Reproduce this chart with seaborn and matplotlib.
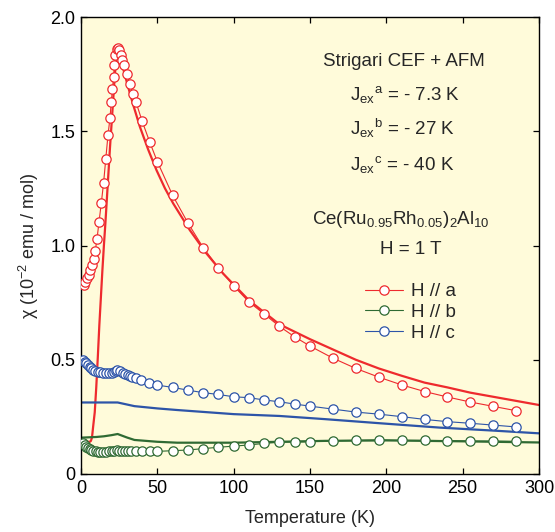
import numpy as np
import pandas as pd
import matplotlib
matplotlib.use("Agg")
import matplotlib.pyplot as plt
import seaborn as sns

# ---------------- data ----------------
# measured data, H // a
Ta = [1.7, 2.8, 3.9, 5.0, 6.1, 7.2, 8.3, 9.3, 10.5, 11.8, 13.3, 14.8, 16.2, 17.7,
      19.0, 19.8, 20.6, 21.3, 21.9, 22.5, 23.4, 24.2, 25.1, 26.0, 27.0, 28.1, 29.9,
      32.1, 33.8, 36.0, 40, 45, 50, 60, 70, 80, 90, 100, 110, 120, 130, 140, 150,
      165, 180, 195, 210, 225, 240, 255, 270, 285]
chi_a = [0.826, 0.841, 0.856, 0.870, 0.892, 0.914, 0.943, 0.975, 1.03, 1.103, 1.186,
         1.274, 1.377, 1.485, 1.558, 1.628, 1.683, 1.738, 1.792, 1.835, 1.862, 1.866,
         1.854, 1.832, 1.81, 1.791, 1.752, 1.708, 1.665, 1.628, 1.545, 1.453, 1.367,
         1.22, 1.099, 0.991, 0.903, 0.823, 0.753, 0.70, 0.646, 0.600, 0.56, 0.507,
         0.462, 0.424, 0.39, 0.361, 0.337, 0.315, 0.296, 0.277]

# measured data, H // b
Tb = [1.3, 2.3, 3.4, 4.5, 5.6, 6.7, 8.0, 9.5, 10.9, 12.5, 14.2, 16.4, 18.5, 20.2,
      21.8, 23.5, 25.0, 27.0, 29.0, 31.0, 33.0, 36.0, 40, 45, 50, 60, 70, 80, 90,
      100, 110, 120, 130, 140, 150, 165, 180, 195, 210, 225, 240, 255, 270, 285]
chi_b = [0.137, 0.128, 0.120, 0.114, 0.109, 0.105, 0.102, 0.100, 0.098, 0.097, 0.097,
         0.098, 0.099, 0.100, 0.102, 0.103, 0.102, 0.101, 0.100, 0.100, 0.100, 0.100,
         0.100, 0.100, 0.099, 0.102, 0.105, 0.111, 0.117, 0.122, 0.127, 0.134, 0.139,
         0.140, 0.141, 0.146, 0.147, 0.149, 0.147, 0.147, 0.146, 0.144, 0.144, 0.143]

# measured data, H // c
Tc = [1.3, 2.3, 3.4, 4.5, 5.6, 6.7, 7.8, 9.3, 10.9, 12.5, 14.2, 16.3, 18.5, 20.2,
      21.8, 23.0, 23.9, 25.5, 27.2, 28.8, 30.5, 32.0, 33.7, 36.0, 39.2, 44.6, 50,
      60, 70, 80, 90, 100, 110, 120, 130, 140, 150, 165, 180, 195, 210, 225, 240,
      255, 270, 285]
chi_c = [0.498, 0.491, 0.484, 0.476, 0.469, 0.462, 0.455, 0.450, 0.447, 0.445, 0.443,
         0.441, 0.440, 0.443, 0.447, 0.452, 0.455, 0.450, 0.443, 0.438, 0.433, 0.428,
         0.423, 0.418, 0.411, 0.400, 0.389, 0.379, 0.367, 0.356, 0.348, 0.338, 0.334,
         0.324, 0.316, 0.306, 0.297, 0.284, 0.271, 0.262, 0.251, 0.239, 0.229, 0.222,
         0.214, 0.206]

# CEF + AFM calculation curves
Tfit_a = [0, 3, 5.8, 6.5, 7.2, 8, 9, 10, 11, 12, 13, 14, 15, 16, 17, 18, 19, 20, 21,
          22, 23, 23.8, 24.5, 25.5, 27, 30, 34, 38.6, 44, 49.5, 55, 60.4, 71.3, 82.2,
          93.1, 110, 130, 150, 165, 180, 195, 210, 225, 240, 255, 270, 285, 300]
chifit_a = [0.141, 0.141, 0.141, 0.145, 0.16, 0.21, 0.27, 0.38, 0.51, 0.65, 0.77,
            0.89, 1.00, 1.10, 1.21, 1.32, 1.43, 1.53, 1.63, 1.73, 1.82, 1.875, 1.865,
            1.835, 1.79, 1.715, 1.62, 1.519, 1.42, 1.329, 1.25, 1.184, 1.067, 0.965,
            0.877, 0.76, 0.655, 0.59, 0.545, 0.50, 0.462, 0.43, 0.40, 0.379, 0.356,
            0.338, 0.32, 0.302]

Tfit_b = [0, 10, 15, 20, 24, 30, 35, 50, 63, 100, 130, 160, 200, 250, 300]
chifit_b = [0.159, 0.162, 0.165, 0.170, 0.175, 0.160, 0.149, 0.141, 0.137, 0.137,
            0.141, 0.145, 0.147, 0.143, 0.138]

Tfit_c = [0, 10, 20, 24, 35, 50, 63, 100, 130, 160, 196, 235, 270, 300]
chifit_c = [0.313, 0.313, 0.313, 0.313, 0.297, 0.287, 0.280, 0.262, 0.254, 0.240,
            0.222, 0.203, 0.190, 0.178]

series_labels = ["H // a", "H // b", "H // c"]
x_ticks = [0, 50, 100, 150, 200, 250, 300]
y_ticks = [0, 0.5, 1.0, 1.5, 2.0]
y_ticklabels = ["0", "0.5", "1.0", "1.5", "2.0"]

# ---------------- style ----------------
sns.set_style("ticks")
plt.rcParams["font.family"] = ["Liberation Sans", "DejaVu Sans"]
plt.rcParams["mathtext.fontset"] = "custom"
plt.rcParams["mathtext.rm"] = "Liberation Sans"
plt.rcParams["mathtext.it"] = "Liberation Sans:italic"
plt.rcParams["mathtext.bf"] = "Liberation Sans:bold"

RED = "#EE2A2E"
GREEN = "#2F6A33"
BLUE = "#2D54A8"
BG = "#FFFBDA"

fig = plt.figure(figsize=(5.55, 5.32), dpi=100)
ax = fig.add_axes([81 / 555, 1 - 474 / 532, 458 / 555, 457 / 532])
ax.set_facecolor(BG)

# fits
for T, chi, col in [(Tfit_a, chifit_a, RED), (Tfit_b, chifit_b, GREEN), (Tfit_c, chifit_c, BLUE)]:
    sns.lineplot(x=T, y=chi, ax=ax, color=col, linewidth=1.6, legend=False,
                 estimator=None, sort=False, zorder=2)

handles = []
for T, chi, col, lab in [(Ta, chi_a, RED, series_labels[0]),
                         (Tb, chi_b, GREEN, series_labels[1]),
                         (Tc, chi_c, BLUE, series_labels[2])]:
    sns.lineplot(x=T, y=chi, ax=ax, color=col, linewidth=0.8, marker="o",
                 markersize=6.7, markerfacecolor="white", markeredgecolor=col,
                 markeredgewidth=0.9, legend=False, estimator=None, sort=False,
                 zorder=3)
    line = ax.lines[-1]
    line.set_label(lab)
    handles.append(line)

ax.set_xlim(0, 300)
ax.set_ylim(0, 2.0)
ax.set_xticks(x_ticks)
ax.set_xticklabels([str(t) for t in x_ticks])
ax.set_yticks(y_ticks)
ax.set_yticklabels(y_ticklabels)
ax.tick_params(direction="in", length=4.5, width=0.9, top=True, right=True,
               labelsize=13, pad=4, colors="black")
for s in ax.spines.values():
    s.set_linewidth(1.0)
    s.set_color("black")

ax.set_xlabel("Temperature (K)", fontsize=13, labelpad=10)
ax.set_ylabel(r"χ (10$^{\mathrm{-2}}$ emu / mol)", fontsize=13, labelpad=7)

fs = 13.5
def axx(px):
    return (px - 81) / 458
def axy(py):
    return (474 - py) / 457

ax.text(axx(403.5), axy(66), "Strigari CEF + AFM", transform=ax.transAxes,
        ha="center", va="baseline", fontsize=fs)
ax.text(axx(405), axy(100), r"${\mathrm{J_{ex}}}^{\mathrm{a}}$ = - 7.3 K", transform=ax.transAxes,
        ha="center", va="baseline", fontsize=fs)
ax.text(axx(402.5), axy(135), r"${\mathrm{J_{ex}}}^{\mathrm{b}}$ = - 27 K", transform=ax.transAxes,
        ha="center", va="baseline", fontsize=fs)
ax.text(axx(402.5), axy(170), r"${\mathrm{J_{ex}}}^{\mathrm{c}}$ = - 40 K", transform=ax.transAxes,
        ha="center", va="baseline", fontsize=fs)
ax.text(axx(400.5), axy(224),
        r"Ce(Ru$_{\mathrm{0.95}}$Rh$_{\mathrm{0.05}}$)$_{\mathrm{2}}$Al$_{\mathrm{10}}$",
        transform=ax.transAxes, ha="center", va="baseline", fontsize=fs)
ax.text(axx(411), axy(254), "H = 1 T", transform=ax.transAxes,
        ha="center", va="baseline", fontsize=fs)

ax.legend(handles=handles, loc="upper left", bbox_to_anchor=(axx(365), axy(283)),
          frameon=False, fontsize=fs, handlelength=2.0, handletextpad=0.45,
          labelspacing=0.2, borderpad=0, borderaxespad=0)

fig.savefig("out.png", dpi=100, facecolor="white")
